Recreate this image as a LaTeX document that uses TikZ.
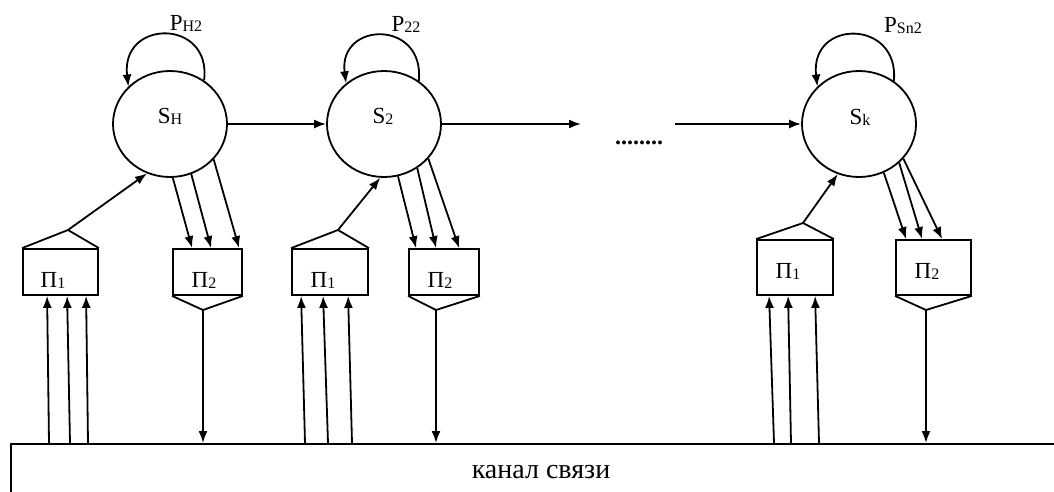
\documentclass[tikz,border=0pt]{standalone}
\usepackage{fontspec}
\setmainfont{Liberation Serif}
\usetikzlibrary{arrows.meta,shapes.geometric,calc}
\newcommand\mysub[1]{\raisebox{-1.5pt}{\fontsize{16}{16}\selectfont #1}}
\begin{document}
\begin{tikzpicture}[x=1pt,y=-1pt,line width=1.8pt,
  font=\fontsize{23}{25}\selectfont,
  arr/.style={-{Latex[length=12pt,width=9pt]}},
  state/.style={draw,ellipse,minimum width=114pt,minimum height=106pt,inner sep=0pt},
  pbox/.style={draw,rectangle,inner sep=0pt},
  lbl/.style={anchor=base,inner sep=0pt},
  chanbox/.style={draw,rectangle,anchor=north west,minimum width=1100pt,minimum height=100pt}]
\useasboundingbox (0,0) rectangle (1054,491);

% channel
\node[chanbox] (chan) at (10,443) {};
\node[lbl,font=\fontsize{28}{30}\selectfont] (chanlbl) at (541,478) {канал связи};

% states
\node[state] (SH) at (170,124) {};
\node[state] (S2) at (384,124) {};
\node[state] (Sk) at (859,124) {};
\node[lbl] (tSH) at (170,123) {S\mysub{H}};
\node[lbl] (tS2) at (383,123) {S\mysub{2}};
\node[lbl] (tSk) at (860,124) {S\mysub{k}};

% loop labels
\node[lbl] (pH2) at (186,30) {P\mysub{H2}};
\node[lbl] (p22) at (406,31) {P\mysub{22}};
\node[lbl] (pSn2) at (903,32) {P\mysub{Sn2}};

% self loops
\draw[arr] (SH.52) .. controls +(8,-62) and +(-8,-68) .. (SH.138);
\draw[arr] (S2.51) .. controls +(6,-62) and +(-8,-62) .. (S2.133);
\draw[arr] (Sk.51) .. controls +(6,-62) and +(-8,-68) .. (Sk.138);

% horizontal chain
\coordinate (c1) at (581,124);
\coordinate (c2) at (675,124);
\draw[arr] (SH.east) -- (S2.west);
\draw[arr] (S2.east) -- (c1);
\draw[arr] (c2) -- (Sk.west);
\node[inner sep=0pt,font=\fontsize{24}{24}\bfseries] (dots) at (639,143) {........};

% boxes
\node[pbox,minimum width=75pt,minimum height=46pt] (P1a) at (60.5,272) {};
\node[pbox,minimum width=69pt,minimum height=46pt] (P2a) at (207.5,272) {};
\node[pbox,minimum width=76pt,minimum height=46pt] (P1b) at (330,272) {};
\node[pbox,minimum width=70pt,minimum height=46pt] (P2b) at (444,272) {};
\node[pbox,minimum width=76pt,minimum height=55pt] (P1c) at (795,267.5) {};
\node[pbox,minimum width=75pt,minimum height=55pt] (P2c) at (933.5,267.5) {};

\node[lbl] (tP1a) at (53,287) {П\mysub{1}};
\node[lbl] (tP2a) at (204,287) {П\mysub{2}};
\node[lbl] (tP1b) at (323,287) {П\mysub{1}};
\node[lbl] (tP2b) at (440,287) {П\mysub{2}};
\node[lbl] (tP1c) at (788,278) {П\mysub{1}};
\node[lbl] (tP2c) at (927,278) {П\mysub{2}};

% roofs on П1
\coordinate (ra) at (68,230);
\coordinate (rb) at (338,230);
\coordinate (rc) at (803,223);
\draw (P1a.north west) -- (ra) -- (P1a.north east);
\draw (P1b.north west) -- (rb) -- (P1b.north east);
\draw (P1c.north west) -- (rc) -- (P1c.north east);
\draw[arr] (ra) -- (SH.245);
\draw[arr] (rb) -- (S2.266);
\draw[arr] (rc) -- (Sk.247);

% funnels under П2
\coordinate (fa) at (203,310);
\coordinate (fb) at (436,310);
\coordinate (fc) at (926,310);
\draw (P2a.south west) -- (fa) -- (P2a.south east);
\draw (P2b.south west) -- (fb) -- (P2b.south east);
\draw (P2c.south west) -- (fc) -- (P2c.south east);
\draw[arr] (fa) -- (fa |- chan.north);
\draw[arr] (fb) -- (fb |- chan.north);
\draw[arr] (fc) -- (fc |- chan.north);

% state -> П2 triple arrows
\draw[arr] (SH.273) -- ([xshift=20pt]P2a.north west);
\draw[arr] (SH.293) -- ([xshift=39pt]P2a.north west);
\draw[arr] (SH.321) -- ([xshift=67pt]P2a.north west);
\draw[arr] (S2.285) -- ([xshift=8pt]P2b.north west);
\draw[arr] (S2.307) -- ([xshift=28pt]P2b.north west);
\draw[arr] (S2.322) -- ([xshift=51pt]P2b.north west);
\draw[arr] (Sk.297) -- ([xshift=11pt]P2c.north west);
\draw[arr] (Sk.316) -- ([xshift=27pt]P2c.north west);
\draw[arr] (Sk.322) -- ([xshift=47pt]P2c.north west);

% channel -> П1 triple arrows
\draw[arr] ([xshift=39pt]chan.north west) -- ([xshift=25pt]P1a.south west);
\draw[arr] ([xshift=60pt]chan.north west) -- ([xshift=45pt]P1a.south west);
\draw[arr] ([xshift=78pt]chan.north west) -- ([xshift=64pt]P1a.south west);
\draw[arr] ([xshift=295pt]chan.north west) -- ([xshift=10pt]P1b.south west);
\draw[arr] ([xshift=318pt]chan.north west) -- ([xshift=32pt]P1b.south west);
\draw[arr] ([xshift=342pt]chan.north west) -- ([xshift=57pt]P1b.south west);
\draw[arr] ([xshift=764pt]chan.north west) -- ([xshift=13pt]P1c.south west);
\draw[arr] ([xshift=781pt]chan.north west) -- ([xshift=32pt]P1c.south west);
\draw[arr] ([xshift=809pt]chan.north west) -- ([xshift=59pt]P1c.south west);
\end{tikzpicture}
\end{document}
